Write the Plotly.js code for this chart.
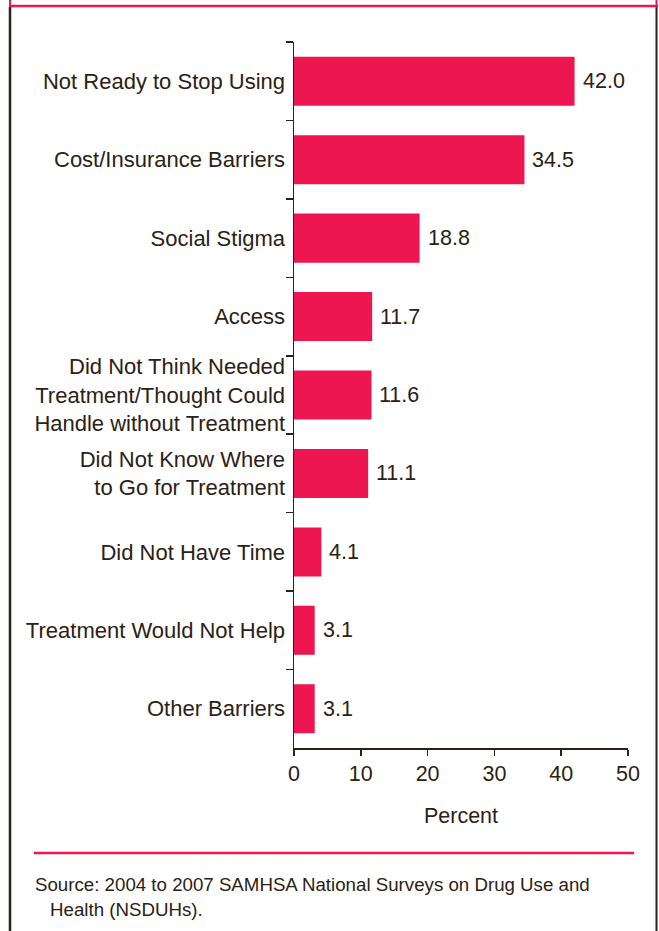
<!DOCTYPE html>
<html>
<head>
<meta charset="utf-8">
<script src="https://cdn.plot.ly/plotly-3.0.1.min.js"></script>
<style>
  html, body { margin: 0; padding: 0; background: #ffffff; }
  #chart { width: 659px; height: 931px; }
</style>
</head>
<body>
<div id="chart"></div>
<script>
const categories = [
  "Not Ready to Stop Using",
  "Cost/Insurance Barriers",
  "Social Stigma",
  "Access",
  "Did Not Think Needed<br>Treatment/Thought Could<br>Handle without Treatment",
  "Did Not Know Where<br>to Go for Treatment",
  "Did Not Have Time",
  "Treatment Would Not Help",
  "Other Barriers"
];
const percents = [42.0, 34.5, 18.8, 11.7, 11.6, 11.1, 4.1, 3.1, 3.1];
const xTickValues = [0, 10, 20, 30, 40, 50];
const xTitle = "Percent";
const sourceLine1 = "Source: 2004 to 2007 SAMHSA National Surveys on Drug Use and";
const sourceLine2 = "Health (NSDUHs).";

const W = 659, H = 931;
const M = { l: 294, r: 31, t: 42, b: 183 };
const pw = W - M.l - M.r, ph = H - M.t - M.b;
const px = v => (v - M.l) / pw;
const py = v => (H - M.b - v) / ph;

const DARK = "#2b2114";
const PINK = "#ed1651";
const FONT = "'Liberation Sans', Arial, Helvetica, sans-serif";

const trace = {
  type: "bar",
  orientation: "h",
  y: categories,
  x: percents,
  marker: { color: PINK, line: { width: 0 } },
  hoverinfo: "none",
  cliponaxis: false
};

const valueAnnotations = percents.map((v, i) => ({
  x: v, y: categories[i], xref: "x", yref: "y",
  text: v.toFixed(1), showarrow: false,
  xanchor: "left", yanchor: "middle", xshift: 6,
  font: { family: FONT, size: 21.5, color: DARK }
}));

const layout = {
  width: W, height: H,
  margin: M,
  paper_bgcolor: "#ffffff",
  plot_bgcolor: "#ffffff",
  showlegend: false,
  bargap: 0.375,
  font: { family: FONT, color: DARK, size: 21.5 },
  xaxis: {
    range: [0, 50],
    tickvals: xTickValues,
    ticks: "outside", ticklen: 6, tickwidth: 1.5, tickcolor: DARK,
    showline: true, linecolor: DARK, linewidth: 1.5,
    showgrid: false, zeroline: false,
    tickfont: { family: FONT, size: 21.5, color: DARK },
    title: { text: xTitle, font: { family: FONT, size: 21.5, color: DARK }, standoff: 22 },
    fixedrange: true
  },
  yaxis: {
    autorange: "reversed",
    type: "category",
    tickson: "boundaries",
    ticks: "outside", ticklen: 7, tickwidth: 1.5, tickcolor: DARK,
    showline: true, linecolor: DARK, linewidth: 1.5,
    showgrid: false, zeroline: false,
    tickfont: { family: FONT, size: 22, color: DARK },
    ticklabelstandoff: 3,
    fixedrange: true
  },
  shapes: [
    { type: "line", xref: "paper", yref: "paper", x0: px(10), x1: px(10), y0: py(7), y1: py(931), line: { color: DARK, width: 2.5 } },
    { type: "line", xref: "paper", yref: "paper", x0: px(656.5), x1: px(656.5), y0: py(7), y1: py(931), line: { color: DARK, width: 2 } },
    { type: "line", xref: "paper", yref: "paper", x0: px(9), x1: px(658), y0: py(6), y1: py(6), line: { color: PINK, width: 2.5 } },
    { type: "line", xref: "paper", yref: "paper", x0: px(10), x1: px(10), y0: py(0), y1: py(6), line: { color: PINK, width: 2 } },
    { type: "line", xref: "paper", yref: "paper", x0: px(656.5), x1: px(656.5), y0: py(0), y1: py(6), line: { color: PINK, width: 2 } },
    { type: "line", xref: "paper", yref: "paper", x0: px(34), x1: px(634), y0: py(853), y1: py(853), line: { color: PINK, width: 2.5 } }
  ],
  annotations: valueAnnotations.concat([
    { xref: "paper", yref: "paper", x: px(33), y: py(884), xanchor: "left", yanchor: "middle",
      text: sourceLine1, showarrow: false, font: { family: FONT, size: 18.7, color: DARK } },
    { xref: "paper", yref: "paper", x: px(48), y: py(909), xanchor: "left", yanchor: "middle",
      text: sourceLine2, showarrow: false, font: { family: FONT, size: 18.7, color: DARK } }
  ])
};

Plotly.newPlot("chart", [trace], layout, { displayModeBar: false, staticPlot: true });
</script>
</body>
</html>
